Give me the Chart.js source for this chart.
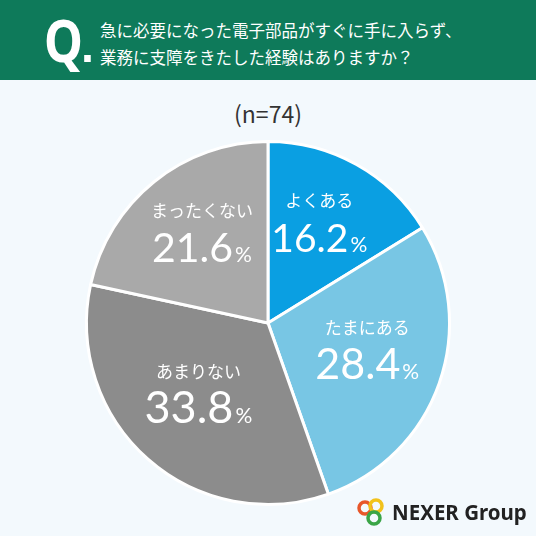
<!DOCTYPE html>
<html lang="ja">
<head>
    <meta charset="UTF-8">
    <title>電子部品の調達</title>
    <script src="https://cdn.jsdelivr.net/npm/chart.js"></script>
    <style>
        body { margin: 0; width: 536px; height: 536px; background: #f3f9fd; font-family: "Noto Sans CJK JP", sans-serif; overflow: hidden; position: relative; }
        .header { height: 80px; background: #0e7a5a; color: #fff; position: relative; }
        .q { position: absolute; left: 44px; top: 14px; font: 700 60px/50px "Noto Sans", sans-serif; transform: scaleX(0.82); transform-origin: left top; }
        .q span { display: inline-block; width: 8px; height: 7px; background: #fff; margin-left: 2px; }
        .title { position: absolute; left: 100px; top: 17px; font-size: 16.5px; line-height: 27px; }
        .n { position: absolute; top: 96px; width: 100%; text-align: center; font-size: 23px; color: #333; }
        .chart-box { position: absolute; top: 80px; left: 0; width: 536px; height: 456px; }
        .logo { position: absolute; left: 356px; top: 497px; display: flex; align-items: center; white-space: nowrap; }
        .logo b { font: 700 20.5px "Noto Sans", sans-serif; color: #222; margin-left: 6px; }
    </style>
</head>
<body>
    <div class="header">
        <div class="q">Q<span></span></div>
        <div class="title">急に必要になった電子部品がすぐに手に入らず、<br>業務に支障をきたした経験はありますか？</div>
    </div>
    <div class="n">(n=74)</div>
    <div class="chart-box"><canvas id="pie"></canvas></div>
    <div class="logo">
        <svg width="30" height="30" viewBox="0 0 30 30">
            <circle cx="9" cy="11" r="6" fill="none" stroke="#e8572a" stroke-width="3.5"/>
            <circle cx="20" cy="9" r="6" fill="none" stroke="#f2c21b" stroke-width="3.5"/>
            <circle cx="18" cy="21" r="6" fill="none" stroke="#3aa547" stroke-width="3.5"/>
        </svg>
        <b>NEXER Group</b>
    </div>
    <script>
        const labels = ["よくある", "たまにある", "あまりない", "まったくない"];
        const values = [16.2, 28.4, 33.8, 21.6];
        const colors = ["#0a9fe2", "#78c6e4", "#8c8c8c", "#a9a9a9"];

        // 扇形の中にラベルと割合を描く
        const sliceLabels = {
            id: 'sliceLabels',
            afterDatasetsDraw(chart) {
                const ctx = chart.ctx;
                const arcs = chart.getDatasetMeta(0).data;
                ctx.save();
                ctx.fillStyle = '#fff';
                ctx.textBaseline = 'alphabetic';
                arcs.forEach((arc, i) => {
                    const p = arc.getProps(['x', 'y', 'startAngle', 'endAngle', 'outerRadius']);
                    const mid = (p.startAngle + p.endAngle) / 2;
                    const r = p.outerRadius * 0.58;
                    const cx = p.x + Math.cos(mid) * r;
                    const cy = p.y + Math.sin(mid) * r;

                    ctx.textAlign = 'center';
                    ctx.font = '400 17px "Noto Sans CJK JP"';
                    ctx.fillText(labels[i], cx, cy - 24);

                    const big = Math.round(33 + values[i] * 0.35);
                    const num = values[i].toFixed(1);
                    ctx.font = `400 ${big}px Lato`;
                    const w1 = ctx.measureText(num).width;
                    ctx.font = '400 21px Lato';
                    const w2 = ctx.measureText('%').width;
                    const left = cx - (w1 + w2 + 2) / 2;
                    ctx.textAlign = 'left';
                    ctx.font = `400 ${big}px Lato`;
                    ctx.fillText(num, left, cy + 21);
                    ctx.font = '400 21px Lato';
                    ctx.fillText('%', left + w1 + 2, cy + 21);
                });
                ctx.restore();
            }
        };

        new Chart(document.getElementById('pie'), {
            type: 'pie',
            data: {
                labels: labels,
                datasets: [{
                    data: values,
                    backgroundColor: colors,
                    borderColor: '#fff',
                    borderWidth: 3
                }]
            },
            options: {
                responsive: true,
                maintainAspectRatio: false,
                animation: false,
                layout: { padding: { top: 60, bottom: 30 } },
                plugins: {
                    legend: { display: false },
                    tooltip: { enabled: false }
                }
            },
            plugins: [sliceLabels]
        });
    </script>
</body>
</html>
